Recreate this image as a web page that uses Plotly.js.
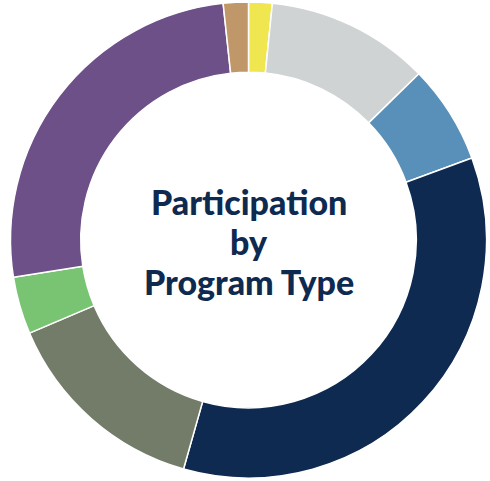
<!DOCTYPE html>
<html>
<head>
<meta charset="utf-8">
<script src="https://cdn.plot.ly/plotly-3.0.1.min.js"></script>
<style>
  body { margin: 0; background: #fff; }
  #chart { width: 490px; height: 481px; }
</style>
</head>
<body>
<div id="chart"></div>
<script>
// program types, clockwise from 12 o'clock
const programs = [
  'Program A', 'Program B', 'Program C', 'Program D',
  'Program E', 'Program F', 'Program G', 'Program H'
];
const shares = [1.6, 11.1, 6.7, 35.0, 14.2, 3.9, 25.8, 1.7];
const sliceColors = [
  '#efe650', '#d0d3d4', '#5990ba', '#0e2a50',
  '#737c68', '#79c472', '#6d5087', '#c09769'
];
const centerLines = ['Participation', 'by', 'Program Type'];

const trace = {
  type: 'pie',
  labels: programs,
  values: shares,
  hole: 0.705,
  sort: false,
  direction: 'clockwise',
  rotation: 0,
  textinfo: 'none',
  hoverinfo: 'label+percent',
  marker: {
    colors: sliceColors,
    line: { color: '#ffffff', width: 1.5 }
  }
};

// one annotation per line so the spacing can be tighter than plotly's default
const lineY = [0.58, 0.496, 0.412];
const annotations = centerLines.map((txt, i) => ({
  text: txt,
  x: 0.5, y: lineY[i], xref: 'paper', yref: 'paper',
  xanchor: 'center', yanchor: 'middle',
  showarrow: false,
  font: { family: 'Lato, sans-serif', size: 34, weight: 900, color: '#0e2a50' }
}));

const layout = {
  width: 490,
  height: 481,
  margin: { l: 10, r: 3, t: 2, b: 3 },
  showlegend: false,
  paper_bgcolor: '#ffffff',
  annotations: annotations
};

Plotly.newPlot('chart', [trace], layout, { displayModeBar: false });
</script>
</body>
</html>
